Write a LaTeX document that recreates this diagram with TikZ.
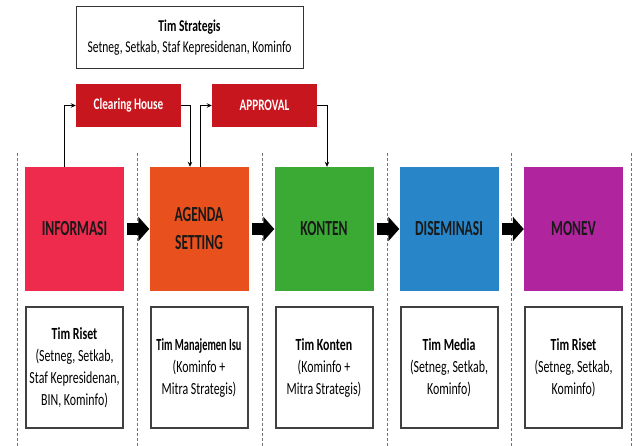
\documentclass[tikz,border=0pt]{standalone}
\usepackage{fontspec}
\setmainfont{Carlito}[FakeStretch=0.7]
\usetikzlibrary{arrows.meta}
\definecolor{infocol}{RGB}{238,42,77}
\definecolor{agendacol}{RGB}{232,81,30}
\definecolor{kontencol}{RGB}{58,170,53}
\definecolor{disemcol}{RGB}{40,134,200}
\definecolor{monevcol}{RGB}{176,36,158}
\definecolor{gatered}{RGB}{200,22,30}
\tikzset{
  phase/.style={minimum width=99pt, minimum height=124pt, inner sep=2pt, align=center, text=black!90, font=\fontsize{21.5}{28}\selectfont\bfseries\addfontfeature{FakeStretch=0.63}},
  team/.style={draw=black!75, line width=2pt, minimum width=97pt, minimum height=121pt, inner sep=2pt, align=center, font=\fontsize{17}{22}\selectfont},
  gate/.style={fill=gatered, minimum width=105pt, minimum height=43pt, text=white, font=\fontsize{16}{20}\selectfont\bfseries},
  flow/.style={-{Stealth[length=5pt,width=4.5pt]}, line width=1pt},
  push/.style={line width=12pt, -{Triangle[length=11pt,width=24pt]}},
  lane/.style={densely dashed, black!55, line width=0.7pt}
}

\begin{document}
\begin{tikzpicture}[x=1pt,y=-1pt]
    \useasboundingbox (0,0) rectangle (634,446);
    \foreach \x in {17,137,262,387,511,631}
      \draw[lane] (\x,153) -- (\x,446);

    \node[draw=black!80, line width=1pt, minimum width=227pt, minimum height=62pt, align=center, font=\fontsize{16.5}{21}\selectfont] (strat) at (189.5,38) {\textbf{Tim Strategis}\\Setneg, Setkab, Staf Kepresidenan, Kominfo};
    \node[gate] (clear) at (128.5,105.5) {Clearing House};
    \node[gate] (appr) at (264.5,105.5) {APPROVAL};

    \node[phase, fill=infocol] (info) at (74.5,229) {INFORMASI};
    \node[phase, fill=agendacol] (agenda) at (199,229) {AGENDA\\SETTING};
    \node[phase, fill=kontencol] (konten) at (324,229) {KONTEN};
    \node[phase, fill=disemcol] (disem) at (449,229) {DISEMINASI};
    \node[phase, fill=monevcol] (monev) at (573.5,229) {MONEV};

    \node[team] (riset) at (74.5,367.5) {\textbf{Tim Riset}\\(Setneg, Setkab,\\Staf Kepresidenan,\\BIN, Kominfo)};
    \node[team] (isu) at (199,367.5) {\scalebox{0.87}[1]{\textbf{Tim Manajemen Isu}}\\(Kominfo +\\Mitra Strategis)};
    \node[team] (tkonten) at (324,367.5) {\textbf{Tim Konten}\\(Kominfo +\\Mitra Strategis)};
    \node[team] (media) at (449,367.5) {\textbf{Tim Media}\\(Setneg, Setkab,\\Kominfo)};
    \node[team] (riset2) at (573.5,367.5) {\textbf{Tim Riset}\\(Setneg, Setkab,\\Kominfo)};

    \draw[flow] ([xshift=-10.5pt]info.north) |- (clear.west);
    \draw[flow] (clear.east) -| ([xshift=-9pt]agenda.north);
    \draw[flow] ([xshift=1pt]agenda.north) |- (appr.west);
    \draw[flow] (appr.east) -| ([xshift=3pt]konten.north);

    \draw[push] ([xshift=3pt]info.east) -- (agenda.west);
    \draw[push] ([xshift=3pt]agenda.east) -- (konten.west);
    \draw[push] ([xshift=3pt]konten.east) -- (disem.west);
    \draw[push] ([xshift=3pt]disem.east) -- (monev.west);
\end{tikzpicture}
\end{document}
